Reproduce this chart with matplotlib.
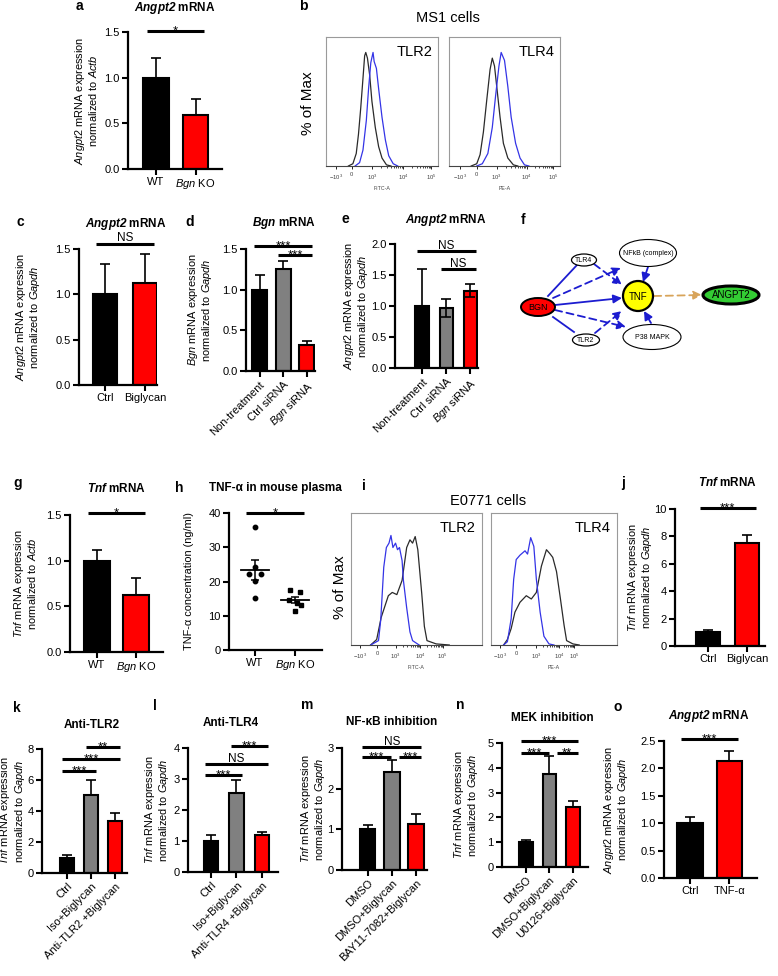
import numpy as np
import matplotlib
matplotlib.use('Agg')
import matplotlib.pyplot as plt
from matplotlib.patches import Ellipse

plt.rcParams['font.family'] = ['Liberation Sans', 'DejaVu Sans']
plt.rcParams['mathtext.fontset'] = 'custom'
plt.rcParams['mathtext.rm'] = 'Liberation Sans'
plt.rcParams['mathtext.it'] = 'Liberation Sans:italic'
plt.rcParams['mathtext.bf'] = 'Liberation Sans:bold'
plt.rcParams['mathtext.bfit'] = 'Liberation Sans:bold:italic'

# ---------------- datos ----------------
a_cats = ['WT', r'$\mathit{Bgn}$ KO']
a_vals = [1.0, 0.595]
a_err = [0.21, 0.175]
a_sig = [(0, 1, 1.51, '*')]

c_cats = ['Ctrl', 'Biglycan']
c_vals = [1.0, 1.12]
c_err = [0.33, 0.32]
c_sig = [(0, 1, 1.56, 'NS')]

sirna_cats = ['Non-treatment', 'Ctrl siRNA', r'$\mathit{Bgn}$ siRNA']
d_vals = [1.0, 1.26, 0.32]
d_err = [0.18, 0.09, 0.05]
d_sig = [(0, 2, 1.54, '***'), (1, 2, 1.43, '***')]

e_vals = [1.0, 0.97, 1.25]
e_err = [0.6, 0.15, 0.11]
e_sig = [(0, 2, 1.89, 'NS'), (1, 2, 1.6, 'NS')]

g_cats = ['WT', r'$\mathit{Bgn}$ KO']
g_vals = [1.0, 0.62]
g_err = [0.12, 0.19]
g_sig = [(0, 1, 1.52, '*')]

h_wt = [36.0, 24.2, 22.3, 22.3, 20.2, 15.1]
h_ko = [17.5, 16.8, 14.5, 13.8, 13.2, 11.5]
h_sig = [(0, 1, 40.0, '*')]

j_cats = ['Ctrl', 'Biglycan']
j_vals = [1.0, 7.55]
j_err = [0.2, 0.55]
j_sig = [(0, 1, 10.05, '***')]

k_cats = ['Ctrl', 'Iso+Biglycan', 'Anti-TLR2 +Biglycan']
k_vals = [1.0, 5.02, 3.35]
k_err = [0.14, 0.95, 0.53]
k_sig = [(1, 2, 8.13, '**'), (0, 2, 7.35, '***'), (0, 1, 6.58, '***')]

l_cats = ['Ctrl', 'Iso+Biglycan', 'Anti-TLR4 +Biglycan']
l_vals = [1.0, 2.56, 1.2]
l_err = [0.2, 0.4, 0.1]
l_sig = [(1, 2, 4.05, '***'), (0, 2, 3.49, 'NS'), (0, 1, 3.14, '***')]

m_cats = ['DMSO', 'DMSO+Biglycan', 'BAY11-7082+Biglycan']
m_vals = [1.0, 2.4, 1.14]
m_err = [0.1, 0.31, 0.24]
m_sig = [(0, 2, 3.02, 'NS'), (0, 1, 2.78, '***'), (1, 2, 2.78, '***')]

n_cats = ['DMSO', 'DMSO+Biglycan', 'U0126+Biglycan']
n_vals = [1.0, 3.75, 2.4]
n_err = [0.1, 0.72, 0.27]
n_sig = [(0, 2, 5.1, '***'), (0, 1, 4.6, '***'), (1, 2, 4.6, '**')]

o_cats = ['Ctrl', 'TNF-α']
o_vals = [1.0, 2.14]
o_err = [0.12, 0.17]
o_sig = [(0, 1, 2.53, '***')]

# citometria (x: posicion en la escala del eje 0-1, y: % of Max); negro = isotipo, azul = anticuerpo
b2_iso_x = [0.20, 0.24, 0.27, 0.29, 0.31, 0.33, 0.345, 0.355, 0.37, 0.39, 0.41, 0.44, 0.47, 0.50, 0.54, 0.58]
b2_iso_y = [0, 2, 11, 28, 51, 77, 97, 100, 95, 80, 57, 34, 17, 7, 1, 0]
b2_ab_x = [0.26, 0.30, 0.33, 0.36, 0.38, 0.40, 0.42, 0.43, 0.45, 0.47, 0.50, 0.53, 0.56, 0.60, 0.64]
b2_ab_y = [0, 3, 14, 40, 68, 91, 100, 92, 86, 68, 43, 23, 9, 2, 0]
b4_iso_x = [0.20, 0.25, 0.28, 0.31, 0.34, 0.37, 0.39, 0.41, 0.43, 0.46, 0.49, 0.53, 0.58, 0.62]
b4_iso_y = [0, 2, 10, 30, 58, 85, 95, 88, 70, 43, 20, 7, 1, 0]
b4_ab_x = [0.25, 0.30, 0.35, 0.39, 0.42, 0.45, 0.47, 0.50, 0.53, 0.56, 0.60, 0.64, 0.68, 0.72]
b4_ab_y = [0, 2, 11, 34, 62, 88, 100, 93, 70, 43, 20, 7, 1, 0]

i2_iso_x = [0.15, 0.196, 0.23, 0.285, 0.315, 0.35, 0.39, 0.425, 0.45, 0.47, 0.49, 0.51, 0.54, 0.56, 0.58, 0.65, 0.75]
i2_iso_y = [0, 5, 25, 45, 48, 46, 59, 89, 96, 93, 99, 87, 47, 17, 4, 1, 0]
i2_ab_x = [0.15, 0.21, 0.227, 0.25, 0.27, 0.29, 0.305, 0.32, 0.34, 0.355, 0.37, 0.39, 0.40, 0.425, 0.45, 0.47, 0.52]
i2_ab_y = [0, 4, 23, 71, 89, 93, 100, 89, 93, 87, 89, 77, 59, 34, 12, 4, 0]
i4_iso_x = [0.10, 0.13, 0.16, 0.19, 0.23, 0.28, 0.32, 0.36, 0.40, 0.44, 0.47, 0.49, 0.52, 0.55, 0.58, 0.60, 0.65, 0.70]
i4_iso_y = [0, 5, 15, 30, 39, 45, 42, 48, 72, 87, 83, 80, 67, 43, 18, 4, 1, 0]
i4_ab_x = [0.10, 0.13, 0.16, 0.18, 0.20, 0.23, 0.27, 0.29, 0.315, 0.34, 0.36, 0.39, 0.42, 0.46, 0.50]
i4_ab_y = [0, 3, 24, 60, 78, 82, 86, 83, 98, 90, 60, 30, 8, 1, 0]

flow_labels = [r'$-10^3$', '0', r'$10^3$', r'$10^4$', r'$10^5$']

# red de interaccion (panel f)
nodos = ['BGN', 'TLR4', 'TLR2', 'NFkB (complex)', 'P38 MAPK', 'TNF', 'ANGPT2']

W, H = 778, 976
fig = plt.figure(figsize=(W / 100, H / 100), dpi=100)


def rect(l, t, r, b):
    return [l / W, 1 - b / H, (r - l) / W, (b - t) / H]


def ftext(x, y, s, **kw):
    kw.setdefault('ha', 'center')
    kw.setdefault('va', 'center')
    fig.text(x / W, 1 - y / H, s, **kw)


def estilo(ax):
    for s in ['top', 'right']:
        ax.spines[s].set_visible(False)
    for s in ['left', 'bottom']:
        ax.spines[s].set_linewidth(1.6)
    ax.tick_params(width=1.5, length=4, labelsize=8, pad=2)


def dibujarSig(ax, sigs):
    for (i, j, y, txt) in sigs:
        x0, x1 = i - 0.22, j + 0.22
        for (i2, j2, y2, _) in sigs:
            if y2 == y and i2 == j:
                x1 = j - 0.02
            if y2 == y and j2 == i:
                x0 = i + 0.3
        ax.plot([x0, x1], [y, y], color='black', lw=2.2, clip_on=False, solid_capstyle='butt')
        if txt == 'NS':
            ax.annotate(txt, ((x0 + x1) / 2, y), xytext=(0, 1.5), textcoords='offset points',
                        ha='center', va='baseline', fontsize=8.5, annotation_clip=False)
        else:
            ax.annotate(txt, ((x0 + x1) / 2, y), xytext=(0, -2.5), textcoords='offset points',
                        ha='center', va='baseline', fontsize=9.5, annotation_clip=False)


def barras(box, xlim, cats, vals, errs, ymax, yticks, fmt, ylabel, ylab_x, sigs,
           rot=False, width=0.62, ambos=False):
    l, t, r, b = box
    ax = fig.add_axes(rect(l, t, r, b))
    x = np.arange(len(vals))
    cols = ['black', 'red'] if len(vals) == 2 else ['black', '#808080', 'red']
    ax.bar(x, vals, width=width, color=cols, edgecolor='black', linewidth=1.5, zorder=2)
    lo = errs if ambos else np.zeros(len(errs))
    ax.errorbar(x, vals, yerr=[lo, errs], fmt='none', ecolor='black', elinewidth=1.2,
                capsize=3.5, capthick=1.2, zorder=3)
    ax.set_xlim(*xlim)
    ax.set_ylim(0, ymax)
    ax.set_yticks(yticks)
    ax.set_yticklabels([fmt.format(v) for v in yticks])
    ax.set_xticks(x)
    if rot:
        ax.set_xticklabels(cats, rotation=45, ha='right', rotation_mode='anchor', fontsize=8)
    else:
        ax.set_xticklabels(cats, fontsize=8.5)
    estilo(ax)
    ax.set_ylabel(ylabel, fontsize=7.9, linespacing=1.05)
    ax.yaxis.label.set_va('center')
    ax.yaxis.set_label_coords((ylab_x - l) / (r - l), 0.5)
    dibujarSig(ax, sigs)
    return ax


def citometria(box, iso_x, iso_y, ab_x, ab_y, ymax, ticks, xlabel, nombre):
    ax = fig.add_axes(rect(*box))
    ax.plot(iso_x, iso_y, color='#2a2a2a', lw=0.9)
    ax.plot(ab_x, ab_y, color='#3434e6', lw=0.9)
    ax.set_xlim(0, 1)
    ax.set_ylim(0, ymax)
    ax.set_yticks([])
    ax.set_xticks(ticks)
    ax.set_xticklabels(flow_labels, fontsize=4.2, color='#444444')
    menores = []
    for k in range(2, len(ticks) - 1):
        for m in range(2, 10):
            menores.append(ticks[k] + (ticks[k + 1] - ticks[k]) * np.log10(m))
    ax.set_xticks(menores, minor=True)
    ax.tick_params(axis='x', length=2.5, width=0.6, pad=2)
    ax.tick_params(axis='x', which='minor', length=1.5, width=0.5)
    for s in ax.spines.values():
        s.set_color('#9a9a9a')
        s.set_linewidth(0.8)
    ax.spines['bottom'].set_color('#444444')
    ax.set_xlabel(xlabel, fontsize=3.8, labelpad=3, color='#444444')
    ax.text(0.95, 0.94, nombre, transform=ax.transAxes, ha='right', va='top', fontsize=10.5)
    return ax


exp = lambda gen, ref: r'$\mathit{%s}$ mRNA expression' % gen + '\n' + r'normalized to $\mathit{%s}$' % ref
tit = lambda gen: r'$\mathbfit{%s}$ mRNA' % gen

# ---------------- a ----------------
barras((128, 32, 222, 169), (-0.71, 1.67), a_cats, a_vals, a_err, 1.5, [0, 0.5, 1.0, 1.5], '{:.1f}',
       exp('Angpt2', 'Actb'), 86, a_sig, width=0.64)
ftext(175, 8, tit('Angpt2'), fontsize=8.5, fontweight='bold')

# ---------------- b ----------------
ftext(448, 18, 'MS1 cells', fontsize=10.5)
ftext(308, 103, '% of Max', rotation=90, fontsize=11)
citometria((326, 37, 438, 166), b2_iso_x, b2_iso_y, b2_ab_x, b2_ab_y, 113.6,
           [0.09, 0.23, 0.41, 0.69, 0.94], 'FITC-A', 'TLR2')
citometria((449, 37, 560, 166), b4_iso_x, b4_iso_y, b4_ab_x, b4_ab_y, 113.6,
           [0.10, 0.25, 0.43, 0.70, 0.94], 'PE-A', 'TLR4')

# ---------------- c, d, e ----------------
barras((79, 249, 157, 385), (-0.65, 1.3), c_cats, c_vals, c_err, 1.5, [0, 0.5, 1.0, 1.5], '{:.1f}',
       exp('Angpt2', 'Gapdh'), 28, c_sig, width=0.62)
ftext(126, 224, tit('Angpt2'), fontsize=8.5, fontweight='bold')

barras((246, 249, 315, 371), (-0.57, 2.34), sirna_cats, d_vals, d_err, 1.5, [0, 0.5, 1.0, 1.5], '{:.1f}',
       exp('Bgn', 'Gapdh'), 200, d_sig, rot=True, width=0.63)
ftext(284, 223, tit('Bgn'), fontsize=8.5, fontweight='bold')

barras((395, 244, 478, 368), (-1.11, 2.31), sirna_cats, e_vals, e_err, 2.0, [0, 0.5, 1.0, 1.5, 2.0], '{:.1f}',
       exp('Angpt2', 'Gapdh'), 356, e_sig, rot=True, width=0.55, ambos=True)
ftext(446, 220, tit('Angpt2'), fontsize=8.5, fontweight='bold')

# ---------------- f: red ----------------
axf = fig.add_axes(rect(520, 225, 778, 360))
axf.set_xlim(520, 778)
axf.set_ylim(360, 225)
axf.axis('off')
azul = '#1c1cd0'
pos = {'BGN': (538, 307), 'TLR4': (584, 260), 'TLR2': (586, 340), 'NFkB (complex)': (648, 253),
       'P38 MAPK': (652, 337), 'TNF': (638, 296), 'ANGPT2': (731, 295)}
forma = {'BGN': (34, 18, 'red', 1.4, 6.5), 'TLR4': (25, 12, 'white', 0.9, 5),
         'TLR2': (27, 12, 'white', 0.9, 5), 'NFkB (complex)': (57, 27, 'white', 0.8, 5),
         'P38 MAPK': (58, 25, 'white', 0.8, 5), 'TNF': (30, 30, '#ffff00', 1.6, 7),
         'ANGPT2': (56, 18, '#33cc33', 2.2, 7)}


def flecha(p0, p1, color=azul, dash=False):
    axf.annotate('', xy=p1, xytext=p0,
                 arrowprops=dict(arrowstyle='-|>,head_length=0.5,head_width=0.25', color=color, lw=1.3,
                                 linestyle=(0, (4, 2.5)) if dash else '-', shrinkA=0, shrinkB=0))


axf.plot([548, 577], [296, 265], color=azul, lw=1.3)
axf.plot([553, 574], [317, 332], color=azul, lw=1.3)
flecha((594, 264), (622, 285), dash=True)
flecha((553, 298), (621, 268), dash=True)
flecha((555, 305), (622, 298))
flecha((555, 310), (626, 327), dash=True)
flecha((595, 333), (622, 311), dash=True)
flecha((648, 267), (643, 282))
flecha((651, 323), (644, 311))
flecha((654, 296), (702, 295), color='#d8a45a', dash=True)
for n in nodos:
    w, h, fc, lw, fs = forma[n]
    axf.add_patch(Ellipse(pos[n], w, h, facecolor=fc, edgecolor='black', lw=lw, zorder=3))
    axf.text(pos[n][0], pos[n][1] + 0.5, n, ha='center', va='center', fontsize=fs, zorder=4)

# ---------------- g ----------------
barras((70, 515, 163, 652), (-0.69, 1.69), g_cats, g_vals, g_err, 1.5, [0, 0.5, 1.0, 1.5], '{:.1f}',
       exp('Tnf', 'Actb'), 25, g_sig, width=0.67)
ftext(117, 489, tit('Tnf'), fontsize=8.5, fontweight='bold')

# ---------------- h ----------------
axh = fig.add_axes(rect(229, 513, 322, 650))
jit_wt = [0, 0, -0.15, 0.15, 0, 0]
jit_ko = [-0.12, 0.12, -0.15, 0.05, 0.15, 0.0]
axh.plot(np.array(jit_wt), h_wt, 'o', color='black', ms=3.2, zorder=3)
axh.plot(1 + np.array(jit_ko), h_ko, 's', color='black', ms=3.2, zorder=3)
for xi, grupo in enumerate([h_wt, h_ko]):
    med = np.mean(grupo)
    sem = np.std(grupo, ddof=1) / np.sqrt(len(grupo))
    axh.plot([xi - 0.34, xi + 0.34], [med, med], color='black', lw=1.3)
    axh.errorbar([xi], [med], yerr=[[sem], [sem]], fmt='none', ecolor='black', elinewidth=1.1,
                 capsize=3, capthick=1.1)
axh.set_xlim(-0.65, 1.675)
axh.set_ylim(0, 40)
axh.set_yticks([0, 10, 20, 30, 40])
axh.set_xticks([0, 1])
axh.set_xticklabels(['WT', r'$\mathit{Bgn}$ KO'], fontsize=8.5)
estilo(axh)
axh.set_ylabel('TNF-α concentration (ng/ml)', fontsize=7.9)
axh.yaxis.label.set_va('center')
axh.yaxis.set_label_coords((189 - 229) / (322 - 229), 0.5)
dibujarSig(axh, h_sig)
ftext(275, 488, 'TNF-α in mouse plasma', fontsize=8.5, fontweight='bold')

# ---------------- i ----------------
ftext(488, 501, 'E0771 cells', fontsize=10.5)
ftext(340, 587, '% of Max', rotation=90, fontsize=11)
citometria((351, 513, 482, 645), i2_iso_x, i2_iso_y, i2_ab_x, i2_ab_y, 120.5,
           [0.07, 0.20, 0.34, 0.53, 0.70], 'FITC-A', 'TLR2')
citometria((491, 513, 617, 645), i4_iso_x, i4_iso_y, i4_ab_x, i4_ab_y, 120.5,
           [0.07, 0.20, 0.36, 0.54, 0.66], 'PE-A', 'TLR4')

# ---------------- j ----------------
barras((675, 509, 765, 646), (-0.85, 1.46), j_cats, j_vals, j_err, 10, [0, 2, 4, 6, 8, 10], '{:d}',
       exp('Tnf', 'Gapdh'), 640, j_sig, width=0.62)
ftext(728, 483, tit('Tnf'), fontsize=8.5, fontweight='bold')

# ---------------- k - o ----------------
barras((42, 749, 127, 873), (-1.04, 2.5), k_cats, k_vals, k_err, 8, [0, 2, 4, 6, 8], '{:d}',
       exp('Tnf', 'Gapdh'), 12.5, k_sig, rot=True, width=0.62)
ftext(92, 725, 'Anti-TLR2', fontsize=8.5, fontweight='bold')

barras((188, 748, 278, 872), (-0.9, 2.63), l_cats, l_vals, l_err, 4, [0, 1, 2, 3, 4], '{:d}',
       exp('Tnf', 'Gapdh'), 157, l_sig, rot=True, width=0.57)
ftext(231, 723, 'Anti-TLR4', fontsize=8.5, fontweight='bold')

barras((342, 748, 427, 870), (-1.05, 2.45), m_cats, m_vals, m_err, 3, [0, 1, 2, 3], '{:d}',
       exp('Tnf', 'Gapdh'), 313, m_sig, rot=True, width=0.64)
ftext(392, 722, 'NF-κB inhibition', fontsize=8.5, fontweight='bold')

barras((502, 743, 588, 867), (-1.02, 2.64), n_cats, n_vals, n_err, 5, [0, 1, 2, 3, 4, 5], '{:d}',
       exp('Tnf', 'Gapdh'), 466, n_sig, rot=True, width=0.58)
ftext(552, 718, 'MEK inhibition', fontsize=8.5, fontweight='bold')

barras((664, 741, 757, 878), (-0.66, 1.7), o_cats, o_vals, o_err, 2.5, [0, 0.5, 1.0, 1.5, 2.0, 2.5], '{:.1f}',
       exp('Angpt2', 'Gapdh'), 616, o_sig, width=0.65)
ftext(709, 716, tit('Angpt2'), fontsize=8.5, fontweight='bold')

# letras de los paneles
letras = {'a': (79, 6), 'b': (303, 6), 'c': (20, 222), 'd': (190, 222), 'e': (345, 219), 'f': (523, 220),
          'g': (18, 483), 'h': (179, 488), 'i': (364, 486), 'j': (623, 483), 'k': (17, 708),
          'l': (155, 706), 'm': (307, 705), 'n': (460, 705), 'o': (618, 707)}
for s, (x, y) in letras.items():
    ftext(x, y, s, fontsize=10, fontweight='bold')

fig.savefig('out.png', dpi=100)
